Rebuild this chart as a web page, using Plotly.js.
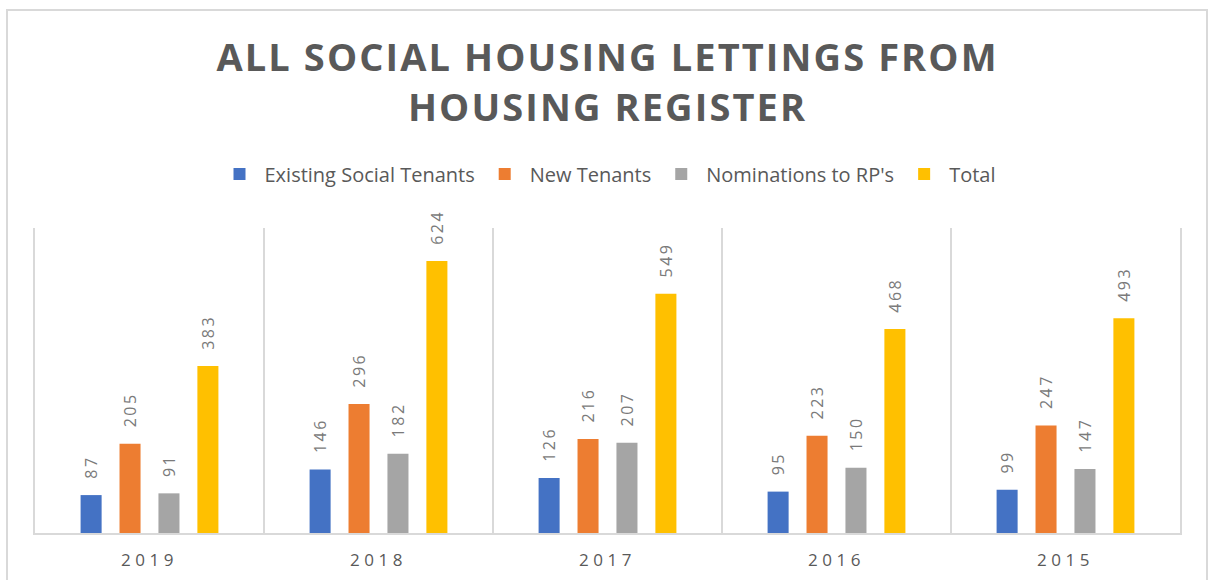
<!DOCTYPE html>
<html>
<head>
<meta charset="utf-8">
<script src="https://cdn.plot.ly/plotly-3.0.1.min.js"></script>
<style>
  html, body { margin: 0; padding: 0; background: #ffffff; }
  #wrap { position: relative; width: 1214px; height: 580px; overflow: hidden; }
  #chart { position: absolute; left: 0; top: 0; width: 1214px; height: 580px; }
  #frame { position: absolute; left: 6px; top: 9px; width: 1202px; height: 600px;
           border: 2px solid #d9d9d9; pointer-events: none; box-sizing: border-box; }
</style>
</head>
<body>
<div id="wrap">
  <div id="chart"></div>
  <div id="frame"></div>
</div>
<script>
const years = ["2019", "2018", "2017", "2016", "2015"];
const seriesNames = ["Existing Social Tenants", "New Tenants", "Nominations to RP's", "Total"];
const existingSocialTenants = [87, 146, 126, 95, 99];
const newTenants = [205, 296, 216, 223, 247];
const nominationsToRPs = [91, 182, 207, 150, 147];
const total = [383, 624, 549, 468, 493];
const colors = ["#4472C4", "#ED7D31", "#A5A5A5", "#FFC000"];

const values = [existingSocialTenants, newTenants, nominationsToRPs, total];
const spaced = s => '<span style="letter-spacing:4.5px">' + s + '</span>';

const traces = values.map((v, i) => ({
  type: "bar",
  name: seriesNames[i],
  x: years,
  y: v,
  marker: { color: colors[i] },
  text: v.map(n => '<span style="letter-spacing:2.5px">\u00a0\u00a0' + n + '</span>'),
  textposition: "outside",
  textangle: -90,
  constraintext: "none",
  cliponaxis: false,
  textfont: { family: "Open Sans, sans-serif", size: 16, color: "#7a7a7a" },
  hoverinfo: "x+y+name"
}));

const layout = {
  width: 1214,
  height: 580,
  paper_bgcolor: "#ffffff",
  plot_bgcolor: "#ffffff",
  margin: { l: 35, r: 34, t: 228, b: 47 },
  title: {
    text: '<span style="letter-spacing:2.1px">ALL SOCIAL HOUSING LETTINGS FROM<br>HOUSING REGISTER</span>',
    font: { family: "Open Sans, sans-serif", size: 38, color: "#595959", weight: "bold" },
    x: 0.5,
    xanchor: "center",
    xref: "paper",
    y: 0.877,
    yanchor: "top",
    yref: "container"
  },
  barmode: "group",
  bargap: 0.32,
  bargroupgap: 0.46,
  showlegend: true,
  legend: {
    orientation: "h",
    x: 0.5,
    xanchor: "center",
    y: 1 - 174 / 580,
    yanchor: "middle",
    yref: "container",
    itemwidth: 40,
    font: { family: "Open Sans, sans-serif", size: 20, color: "#595959" },
    traceorder: "normal"
  },
  xaxis: {
    type: "category",
    tickmode: "array",
    tickvals: years,
    ticktext: years.map(spaced),
    tickson: "boundaries",
    ticks: "",
    showgrid: true,
    gridcolor: "#d9d9d9",
    gridwidth: 2,
    showline: true,
    linecolor: "#d9d9d9",
    linewidth: 2,
    tickfont: { family: "Open Sans, sans-serif", size: 17, color: "#595959" },
    ticklabelstandoff: 11,
    fixedrange: true
  },
  yaxis: {
    range: [0, 700],
    showticklabels: false,
    showgrid: false,
    zeroline: false,
    showline: true,
    mirror: true,
    linecolor: "#d9d9d9",
    linewidth: 2,
    ticks: "",
    fixedrange: true
  }
};

Plotly.newPlot("chart", traces, layout, { displayModeBar: false, staticPlot: false });
</script>
</body>
</html>
